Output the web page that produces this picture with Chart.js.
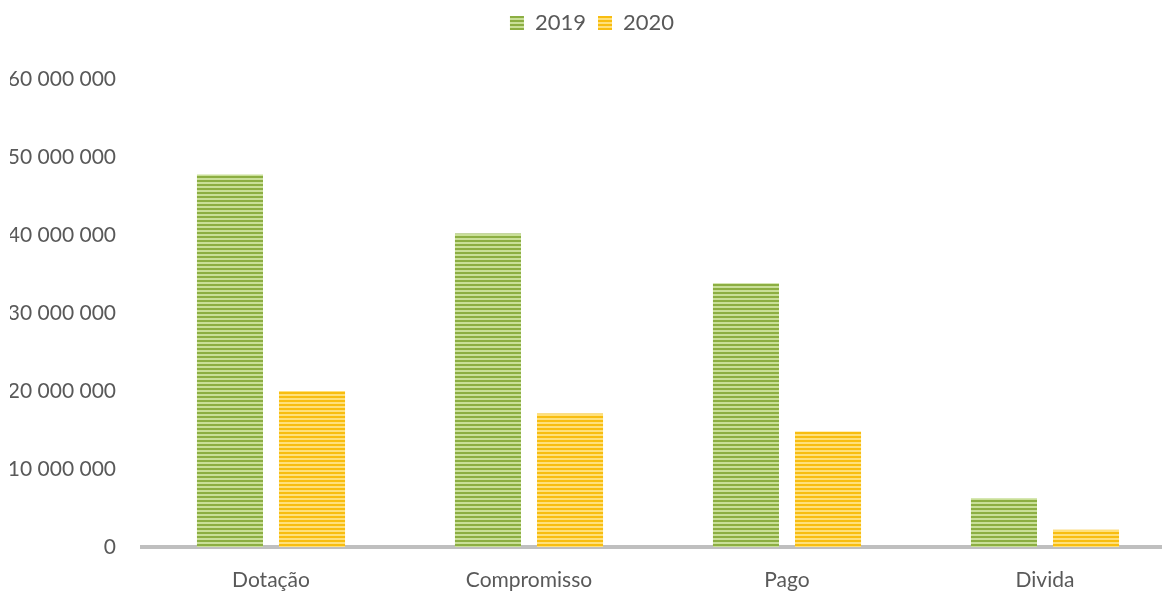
<!DOCTYPE html>
<html>
<head>
<meta charset="utf-8">
<script src="https://cdn.jsdelivr.net/npm/chart.js@4/dist/chart.umd.min.js"></script>
<style>
  html, body { margin: 0; padding: 0; background: #fff; overflow: hidden; }
</style>
</head>
<body>
<canvas id="grafico" width="1174" height="592"></canvas>
<script>
const categorias = ['Dotação', 'Compromisso', 'Pago', 'Divida'];
const valores2019 = [47750000, 40200000, 33800000, 6250000];
const valores2020 = [20000000, 17100000, 14800000, 2200000];
const marcasY = [0, 10000000, 20000000, 30000000, 40000000, 50000000, 60000000];

// listras horizontais como no original
function listras(escura, clara) {
    const c = document.createElement('canvas');
    c.width = 4;
    c.height = 4;
    const ctx = c.getContext('2d');
    ctx.fillStyle = clara;
    ctx.fillRect(0, 0, 4, 4);
    ctx.fillStyle = escura;
    ctx.fillRect(0, 0, 4, 2);
    return ctx.createPattern(c, 'repeat');
}

// espaço extra abaixo da legenda
const espacoLegenda = {
    id: 'espacoLegenda',
    beforeInit(chart) {
        const fitOriginal = chart.legend.fit;
        chart.legend.fit = function () {
            fitOriginal.bind(chart.legend)();
            this.height += 35;
        };
    }
};

const familia = 'Lato, "Open Sans", sans-serif';

new Chart(document.getElementById('grafico'), {
    type: 'bar',
    data: {
        labels: categorias,
        datasets: [{
            label: '2019',
            data: valores2019,
            backgroundColor: listras('#8cae42', '#c9df98'),
            borderWidth: 0
        }, {
            label: '2020',
            data: valores2020,
            backgroundColor: listras('#f8bd10', '#ffe07a'),
            borderWidth: 0
        }]
    },
    plugins: [espacoLegenda],
    options: {
        responsive: false,
        animation: false,
        devicePixelRatio: 1,
        layout: { padding: { left: 10, right: 0, top: 0, bottom: 0 } },
        datasets: { bar: { categoryPercentage: 0.636, barPercentage: 0.805 } },
        plugins: {
            tooltip: { enabled: false },
            legend: {
                position: 'top',
                labels: {
                    boxWidth: 14,
                    boxHeight: 14,
                    padding: 12,
                    color: '#595959',
                    font: { family: familia, size: 22 }
                }
            }
        },
        scales: {
            x: {
                grid: { display: false },
                border: { display: true, color: '#bfbfbf', width: 4 },
                ticks: { color: '#595959', font: { family: familia, size: 21 }, padding: 13, autoSkip: false, maxRotation: 0 },
                afterFit: (s) => { s.height = 45; }
            },
            y: {
                min: 0,
                max: 60000000,
                afterBuildTicks: (s) => { s.ticks = marcasY.map(v => ({ value: v })); },
                grid: { display: false },
                border: { display: false },
                ticks: {
                    color: '#595959',
                    font: { family: familia, size: 21 },
                    padding: 18,
                    autoSkip: false,
                    callback: (v) => v.toLocaleString('en-US').replace(/,/g, ' ')
                },
                afterFit: (s) => { s.width = 132; }
            }
        }
    }
});
</script>
</body>
</html>
